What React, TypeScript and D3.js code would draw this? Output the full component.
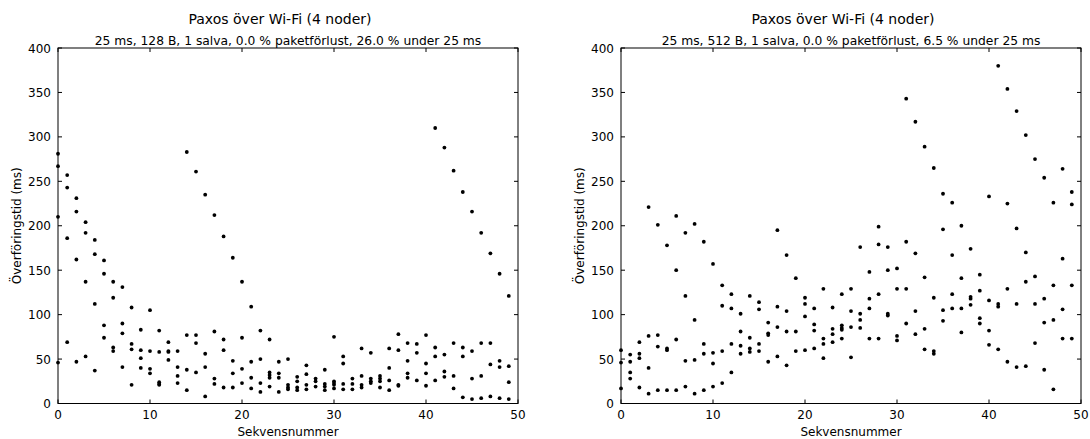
import React from "react";
import * as d3 from "d3";

// Transfer times (ms) per sequence number, one inner list per sequence number.
const seqNumbers: number[] = d3.range(0, 50);

const delays128B: number[][] = [
  [281, 267, 210, 46], [257, 243, 186, 69], [231, 216, 162, 47], [204, 192, 137, 53],
  [184, 168, 112, 37], [161, 146, 88, 74], [137, 119, 63, 59], [131, 90, 79, 41],
  [108, 67, 61, 21], [83, 60, 51, 40], [105, 59, 39, 34], [82, 58, 24, 22, 21],
  [69, 59, 58, 49], [59, 41, 31, 23], [283, 77, 38, 15], [261, 77, 68, 35],
  [235, 56, 41, 8], [212, 81, 28, 22], [188, 72, 60, 18], [164, 48, 34, 18],
  [137, 74, 39, 23], [109, 47, 29, 17], [82, 50, 23, 13], [72, 35, 32, 29, 19],
  [47, 34, 29, 13], [50, 21, 18, 16], [30, 25, 18, 15], [43, 33, 21, 16],
  [28, 25, 19], [38, 22, 19, 15], [75, 25, 23, 21, 17], [53, 45, 22, 16],
  [28, 22, 16], [62, 31, 21, 18], [57, 28, 25, 23], [31, 28, 25, 18],
  [62, 40, 26, 15], [78, 60, 21, 20], [68, 48, 34, 29], [67, 57, 26],
  [77, 45, 34, 20], [310, 63, 53, 26], [288, 55, 36, 30], [262, 68, 31, 17],
  [238, 63, 53, 7], [216, 59, 28, 5], [192, 68, 31, 6], [169, 68, 44, 8],
  [146, 48, 41, 6], [121, 42, 24, 5],
];

const delays512B: number[][] = [
  [60, 46, 17], [55, 47, 35, 28], [69, 56, 51, 18], [221, 76, 40, 11],
  [201, 77, 64, 15], [178, 62, 60, 15], [211, 150, 72, 15], [192, 121, 48, 19],
  [202, 94, 49, 11], [182, 67, 56, 15], [157, 57, 45, 19], [133, 110, 59, 23],
  [123, 107, 67, 35], [101, 81, 65, 56], [121, 74, 62, 58], [114, 106, 67, 59],
  [91, 79, 77, 47], [195, 109, 86, 53], [167, 104, 81, 43], [141, 81, 59],
  [119, 112, 98, 60], [107, 89, 82, 62], [129, 73, 67, 51], [108, 84, 78, 69],
  [123, 88, 85, 83, 73], [129, 104, 86, 52], [176, 101, 94, 85], [148, 118, 107, 73],
  [199, 179, 123, 73], [176, 150, 101, 99], [152, 129, 76, 71], [343, 182, 129, 90],
  [317, 169, 104, 78], [289, 142, 84, 61], [265, 119, 59, 56], [236, 196, 105, 93],
  [226, 167, 123, 107], [200, 141, 107, 80], [174, 120, 118, 111], [145, 127, 96, 90],
  [233, 116, 82, 66], [380, 112, 109, 61], [354, 225, 129, 47], [329, 197, 112, 41],
  [302, 170, 137, 42], [275, 143, 112, 68], [254, 118, 91, 38], [226, 133, 94, 16],
  [264, 163, 106, 73], [238, 224, 133, 73],
];

const xTicks: number[] = [0, 10, 20, 30, 40, 50];
const yTicks: number[] = [0, 50, 100, 150, 200, 250, 300, 350, 400];

const mainTitle = "Paxos över Wi-Fi (4 noder)";
const subtitles: string[] = [
  "25 ms, 128 B, 1 salva, 0.0 % paketförlust, 26.0 % under 25 ms",
  "25 ms, 512 B, 1 salva, 0.0 % paketförlust, 6.5 % under 25 ms",
];
const xLabel = "Sekvensnummer";
const yLabel = "Överföringstid (ms)";

const FONT = "'DejaVu Sans', sans-serif";
const PLOT_W = 460;
const PLOT_H = 355.5;
const TOP = 48;
const TICK = 4;

function Panel({ left, data, subtitle }: { left: number; data: number[][]; subtitle: string }) {
  const x = d3.scaleLinear().domain([0, 50]).range([0, PLOT_W]);
  const y = d3.scaleLinear().domain([0, 400]).range([PLOT_H, 0]);
  const points = seqNumbers.flatMap((s) => (data[s] || []).map((v) => ({ s, v })));

  return (
    <g transform={`translate(${left},${TOP})`} fontFamily={FONT} fill="#000">
      <text x={PLOT_W / 2 - 8} y={-24.5} textAnchor="middle" fontSize={14}>
        {mainTitle}
      </text>
      <text x={PLOT_W / 2} y={-3} textAnchor="middle" fontSize={12.3}>
        {subtitle}
      </text>
      {points.map((p, i) => (
        <circle key={i} cx={x(p.s)} cy={y(p.v)} r={1.9} fill="#000" />
      ))}
      <rect x={0} y={0} width={PLOT_W} height={PLOT_H} fill="none" stroke="#000" strokeWidth={1} />
      {xTicks.map((t) => (
        <g key={`x${t}`}>
          <line x1={x(t)} x2={x(t)} y1={PLOT_H} y2={PLOT_H - TICK} stroke="#000" />
          <line x1={x(t)} x2={x(t)} y1={0} y2={TICK} stroke="#000" />
          <text x={x(t)} y={PLOT_H + 15} textAnchor="middle" fontSize={12}>
            {t}
          </text>
        </g>
      ))}
      {yTicks.map((t) => (
        <g key={`y${t}`}>
          <line x1={0} x2={TICK} y1={y(t)} y2={y(t)} stroke="#000" />
          <line x1={PLOT_W} x2={PLOT_W - TICK} y1={y(t)} y2={y(t)} stroke="#000" />
          <text x={-7} y={y(t) + 4.5} textAnchor="end" fontSize={12}>
            {t}
          </text>
        </g>
      ))}
      <text x={PLOT_W / 2} y={PLOT_H + 32} textAnchor="middle" fontSize={12}>
        {xLabel}
      </text>
      <text
        transform={`translate(${-37},${PLOT_H / 2}) rotate(-90)`}
        textAnchor="middle"
        fontSize={12}
      >
        {yLabel}
      </text>
    </g>
  );
}

export default function App() {
  return (
    <svg
      width={1090}
      height={439}
      style={{ position: "absolute", left: 0, top: 0, background: "#fff" }}
    >
      <rect width={1090} height={439} fill="#fff" />
      <Panel left={58} data={delays128B} subtitle={subtitles[0]} />
      <Panel left={621} data={delays512B} subtitle={subtitles[1]} />
    </svg>
  );
}
